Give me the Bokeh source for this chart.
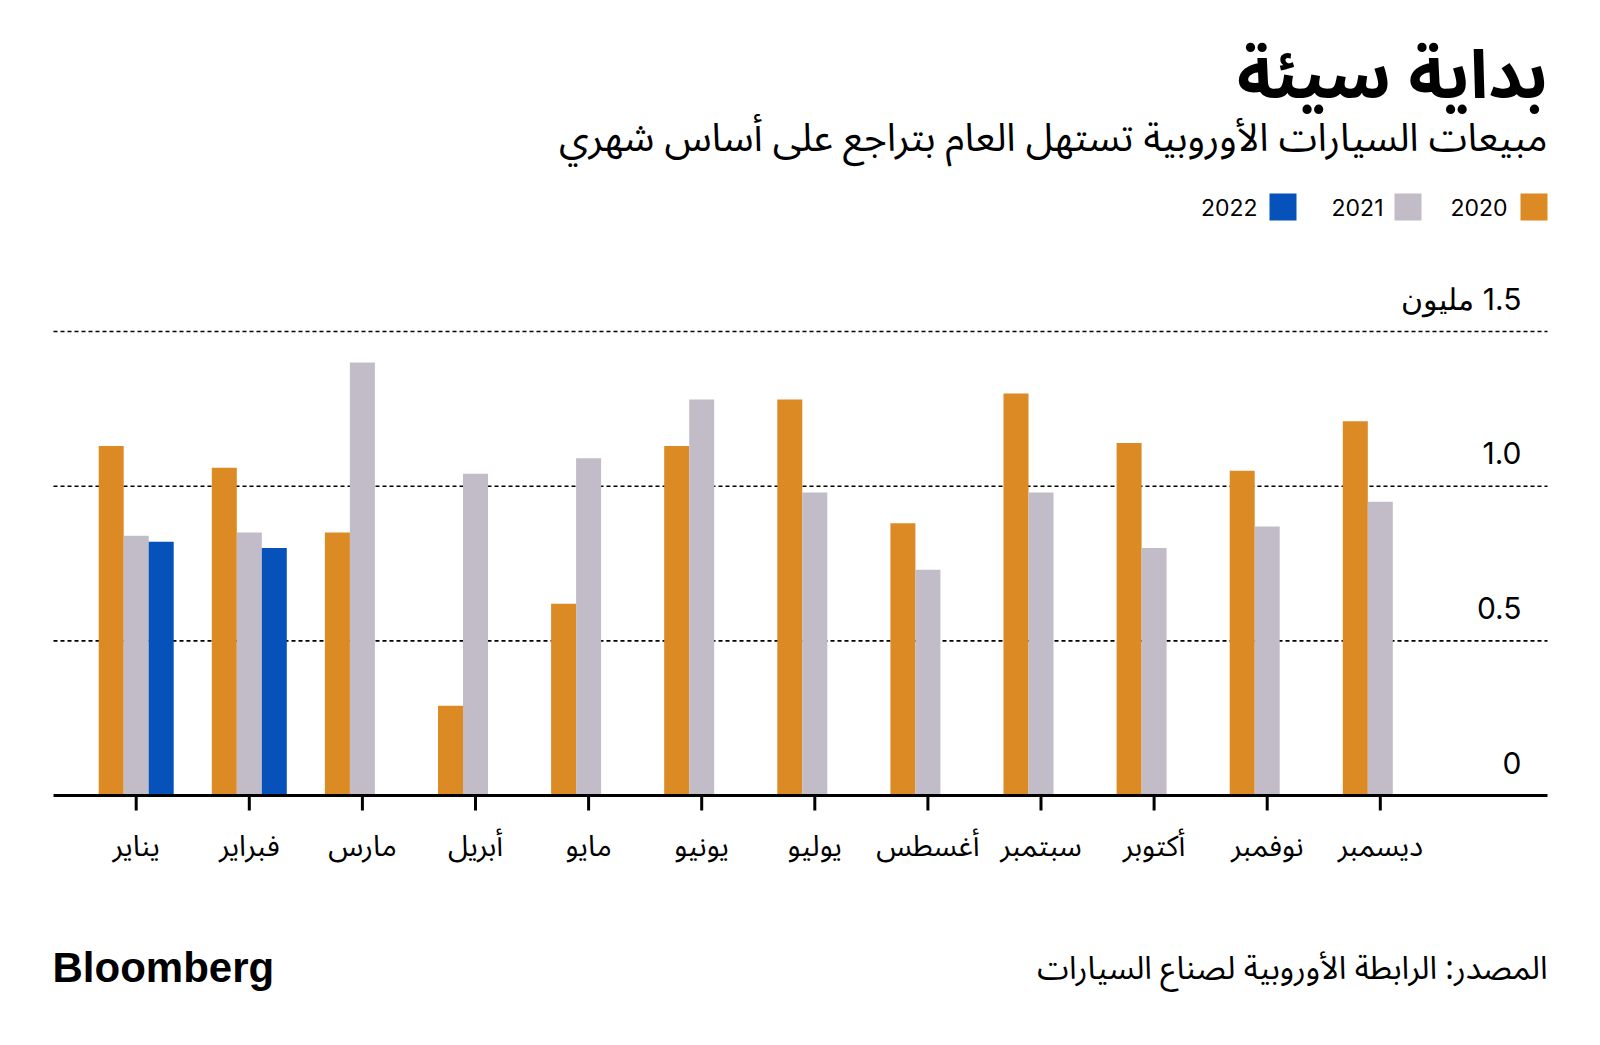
from bokeh.plotting import figure
from bokeh.models import Range1d, ColumnDataSource
from bokeh.transform import dodge
from bokeh.core.properties import value
from bokeh.embed import file_html
from bokeh.resources import INLINE

# ---------------- data ----------------
months = ["يناير", "فبراير", "مارس", "أبريل", "مايو", "يونيو",
          "يوليو", "أغسطس", "سبتمبر", "أكتوبر", "نوفمبر", "ديسمبر"]
sales_2020 = [1.13, 1.06, 0.85, 0.29, 0.62, 1.13, 1.28, 0.88, 1.30, 1.14, 1.05, 1.21]
sales_2021 = [0.84, 0.85, 1.40, 1.04, 1.09, 1.28, 0.98, 0.73, 0.98, 0.80, 0.87, 0.95]
sales_2022 = [0.82, 0.80]
series_names = ["2020", "2021", "2022"]
series_colors = ["#DC8A23", "#C1BCC7", "#0751BB"]
y_ticks = [0.0, 0.5, 1.0, 1.5]
y_tick_labels = ["0", "0.5", "1.0", "\u200f1.5 مليون"]

title = "بداية سيئة"
subtitle = "مبيعات السيارات الأوروبية تستهل العام بتراجع على أساس شهري"
source_note = "المصدر: الرابطة الأوروبية لصناع السيارات"
brand = "Bloomberg"

# ---------------- layout ----------------
W, H = 1590, 1040
ORG = 0  # page offset of the figure
ARABIC = "Noto Sans Arabic"
LATIN = "Inter"

# month index -> page px: 135.7 + 113.1*i ; value -> page px: 795 - 309.3*v
x0_px, dx_px = 135.7, 113.1
y0_px, dy_px = 795.0, 309.3
x_start = (ORG - x0_px) / dx_px
x_end = (ORG + W - x0_px) / dx_px
y_start = (y0_px - (ORG + H)) / dy_px
y_end = (y0_px - ORG) / dy_px

p = figure(width=W, height=H, output_backend="svg", toolbar_location=None,
           x_range=Range1d(x_start, x_end), y_range=Range1d(y_start, y_end),
           min_border=0, outline_line_color=None, background_fill_color="white",
           border_fill_color="white")
p.axis.visible = False
p.grid.visible = False
p.extra_x_ranges = {"px": Range1d(ORG, ORG + W)}
p.extra_y_ranges = {"py": Range1d(ORG + H, ORG)}

idx = list(range(len(months)))
src = ColumnDataSource(dict(x=idx, m=months, s20=sales_2020, s21=sales_2021))
src22 = ColumnDataSource(dict(x=idx[:len(sales_2022)], s22=sales_2022))

bw = 25 / dx_px
FRAME_L, FRAME_R = 53, 1547

# gridlines
for t in y_ticks[1:]:
    p.segment(x0=FRAME_L, x1=FRAME_R, y0=t, y1=t, x_range_name="px",
              line_color="black", line_width=1.6, line_dash="4 3")

# bars
p.vbar(x=dodge("x", -bw, range=p.x_range), top="s20", width=bw, bottom=0,
       source=src, fill_color=series_colors[0], line_color=None)
p.vbar(x=dodge("x", 0, range=p.x_range), top="s21", width=bw, bottom=0,
       source=src, fill_color=series_colors[1], line_color=None)
p.vbar(x=dodge("x", bw, range=p.x_range), top="s22", width=bw, bottom=0,
       source=src22, fill_color=series_colors[2], line_color=None)

# baseline
p.segment(x0=FRAME_L, x1=FRAME_R, y0=0, y1=0, x_range_name="px",
          line_color="black", line_width=3)

# x ticks and labels
tick_src = ColumnDataSource(dict(x=idx, y0=[796] * 12, y1=[810] * 12))
p.segment(x0="x", x1="x", y0="y0", y1="y1", source=tick_src,
          y_range_name="py", line_color="black", line_width=3)
lab_src = ColumnDataSource(dict(x=idx, y=[846] * 12, m=months))
p.text(x="x", y="y", text="m", source=lab_src, y_range_name="py",
       text_font=value(ARABIC), text_font_size="29px", text_align="center",
       text_baseline="middle", text_color="black")

# y labels
ysrc = ColumnDataSource(dict(x=[1521] * len(y_ticks), y=y_ticks, t=y_tick_labels))
p.text(x="x", y="y", text="t", source=ysrc, x_range_name="px",
       text_font=value(LATIN), text_font_size="30px", text_align="right",
       text_baseline="alphabetic", y_offset=-33, text_color="black")

# titles
p.text(x=[1547], y=[76], text=[title], x_range_name="px", y_range_name="py",
       text_font=value(ARABIC), text_font_size="67px", text_font_style="bold",
       text_align="right", text_baseline="middle", text_color="black")
p.text(x=[1547], y=[138], text=[subtitle], x_range_name="px", y_range_name="py",
       text_font=value(ARABIC), text_font_size="39px",
       text_align="right", text_baseline="middle", text_color="black")

# legend (RTL: swatch to the right of label)
leg_sq_right = [1547, 1421, 1296]
leg_txt_right = [1507, 1383, 1257]
for name, col, sr, tr in zip(series_names, series_colors, leg_sq_right, leg_txt_right):
    p.rect(x=[sr - 13.5], y=[206.5], width=27, height=27, x_range_name="px",
           y_range_name="py", fill_color=col, line_color=None)
    p.text(x=[tr], y=[207], text=[name], x_range_name="px", y_range_name="py",
           text_font=value(LATIN), text_font_size="23px", text_align="right",
           text_baseline="middle", text_color="black")

# footer
p.text(x=[52], y=[967], text=[brand], x_range_name="px", y_range_name="py",
       text_font=value("Liberation Sans"), text_font_size="42px",
       text_font_style="bold", text_align="left", text_baseline="middle",
       text_color="black")
p.text(x=[1547], y=[968], text=[source_note], x_range_name="px", y_range_name="py",
       text_font=value(ARABIC), text_font_size="32px", text_align="right",
       text_baseline="middle", text_color="black")

open("out.html", "w").write(file_html(p, INLINE))
